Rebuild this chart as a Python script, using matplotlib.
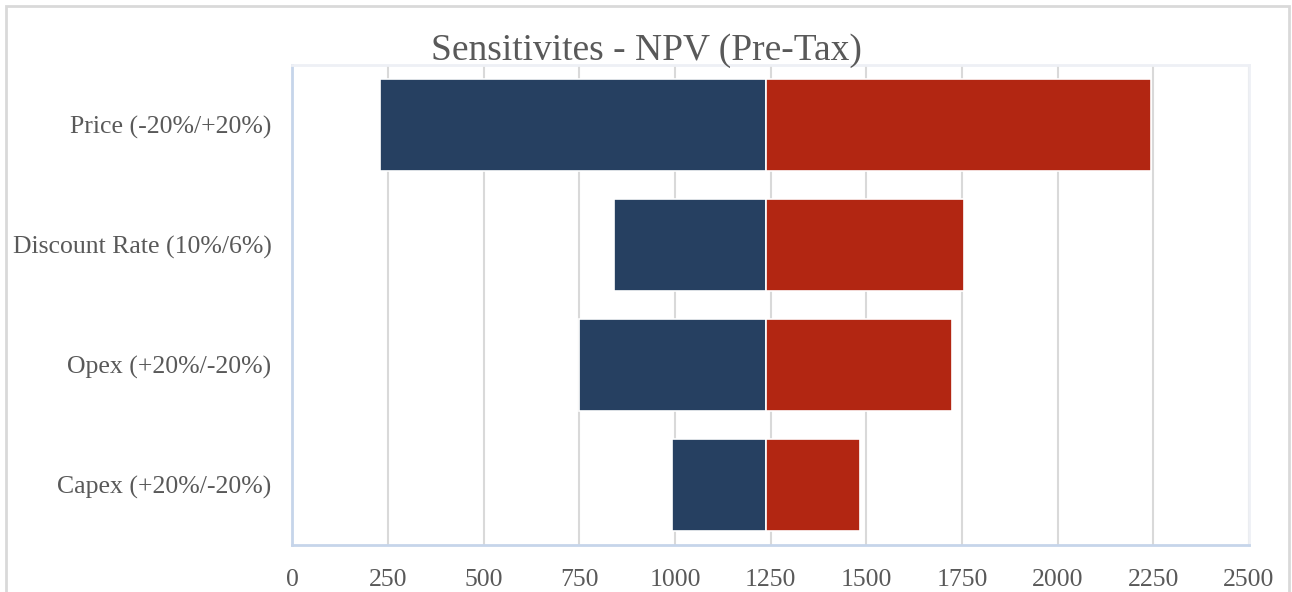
import matplotlib
matplotlib.use("Agg")
import matplotlib.pyplot as plt
from matplotlib.patches import Rectangle

plt.rcParams["font.family"] = ["Liberation Serif", "DejaVu Serif"]

# tornado data (NPV values)
categories = ["Price (-20%/+20%)", "Discount Rate (10%/6%)", "Opex (+20%/-20%)", "Capex (+20%/-20%)"]
base_npv = 1237
low_npv = [230, 840, 749, 993]
high_npv = [2244, 1754, 1723, 1484]
x_ticks = [0, 250, 500, 750, 1000, 1250, 1500, 1750, 2000, 2250, 2500]

BLUE = "#264061"
RED = "#B22612"
TEXT = "#595959"
GRID = "#d9d9d9"

fig = plt.figure(figsize=(12.92, 5.92), dpi=100)
ax = fig.add_axes([0.2263, 0.0794, 0.7404, 0.8108])

y = list(range(len(categories)))
ax.barh(y, [lo - base_npv for lo in low_npv], left=base_npv, height=0.77,
        color=BLUE, edgecolor="white", linewidth=1.2, zorder=3)
ax.barh(y, [hi - base_npv for hi in high_npv], left=base_npv, height=0.77,
        color=RED, edgecolor="white", linewidth=1.2, zorder=3)

ax.set_xlim(0, 2500)
ax.set_ylim(len(categories) - 0.5, -0.5)
ax.set_xticks(x_ticks)
ax.set_xticklabels([str(t) for t in x_ticks], fontsize=18.5, color=TEXT)
ax.set_yticks(y)
ax.set_yticklabels(categories, fontsize=18.5, color=TEXT)
ax.tick_params(axis="both", length=0)
ax.tick_params(axis="x", pad=17)
ax.tick_params(axis="y", pad=15)

ax.grid(axis="x", color=GRID, linewidth=1.5, zorder=0)
ax.set_axisbelow(True)

for side in ["top", "right"]:
    ax.spines[side].set_color("#eef0f5")
    ax.spines[side].set_linewidth(2)
for side in ["left", "bottom"]:
    ax.spines[side].set_color("#c6d5ea")
    ax.spines[side].set_linewidth(2)

fig.text(0.5, 0.915, "Sensitivites - NPV (Pre-Tax)", ha="center", va="center",
         fontsize=27, color=TEXT)

# outer chart frame
fig.patches.append(Rectangle((0.0045, -0.01), 0.9935, 1.0, transform=fig.transFigure,
                             fill=False, edgecolor="#d9d9d9", linewidth=2))

fig.savefig("out.png", dpi=100)
